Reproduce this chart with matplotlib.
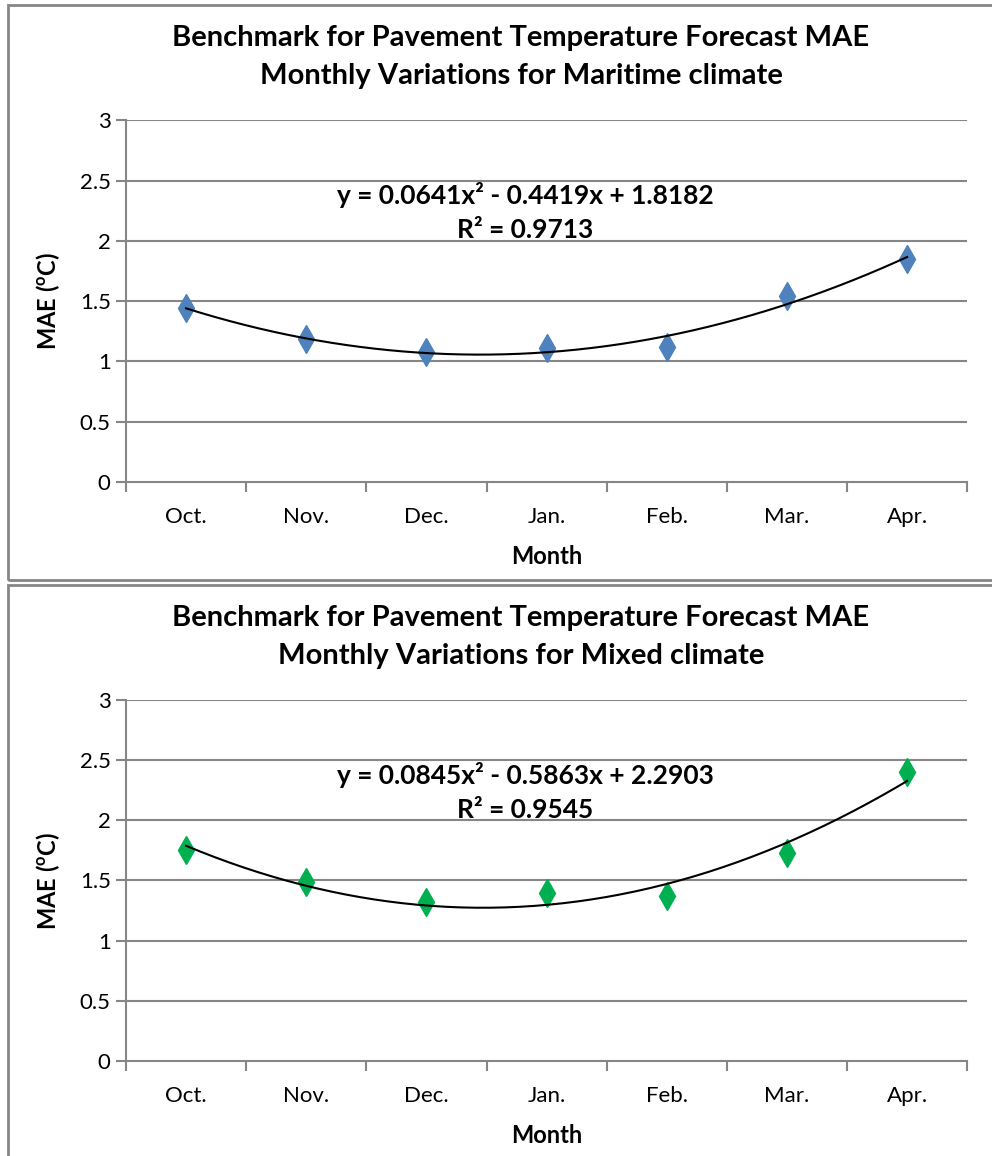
import numpy as np
import matplotlib.pyplot as plt
from matplotlib.patches import Rectangle

plt.rcParams['font.family'] = ['Lato', 'DejaVu Sans']
plt.rcParams['mathtext.fontset'] = 'custom'
plt.rcParams['mathtext.rm'] = 'Lato'
plt.rcParams['mathtext.bf'] = 'Lato:bold'

months = ['Oct.', 'Nov.', 'Dec.', 'Jan.', 'Feb.', 'Mar.', 'Apr.']
mae_maritime = [1.44, 1.19, 1.08, 1.11, 1.12, 1.54, 1.85]
mae_mixed = [1.75, 1.49, 1.32, 1.40, 1.37, 1.73, 2.40]
# trendline coefficients (a, b, c) and R² as printed on the chart
coef_maritime = [0.0641, -0.4419, 1.8182]
coef_mixed = [0.0845, -0.5863, 2.2903]
r2_maritime = 0.9713
r2_mixed = 0.9545
yticks = [0, 0.5, 1, 1.5, 2, 2.5, 3]

grid_col = '#868686'

fig = plt.figure(figsize=(9.92, 11.56), dpi=100)

# chart borders (pixels -> figure fraction)
W, H = 992, 1156
fig.patches.append(Rectangle((8 / W, (H - 580) / H), 1.0, 575 / H, transform=fig.transFigure,
                             fill=False, edgecolor=grid_col, lw=2.0))
fig.patches.append(Rectangle((8 / W, -0.01), 1.0, (H - 585) / H + 0.01, transform=fig.transFigure,
                             fill=False, edgecolor=grid_col, lw=2.0))

panels = [
    ([0.127, 0.583, 0.848, 0.313], mae_maritime, coef_maritime, r2_maritime, '#4F81BD',
     'Benchmark for Pavement Temperature Forecast MAE\nMonthly Variations for Maritime climate', 57 / H),
    ([0.127, 0.0822, 0.848, 0.3123], mae_mixed, coef_mixed, r2_mixed, '#00B050',
     'Benchmark for Pavement Temperature Forecast MAE\nMonthly Variations for Mixed climate', 637 / H),
]

x = np.arange(1, len(months) + 1)
xs = np.linspace(1, 7, 200)

for rect, vals, coef, r2, col, title, ty in panels:
    ax = fig.add_axes(rect)
    ax.set_xlim(0.5, 7.5)
    ax.set_ylim(0, 3)
    ax.set_yticks(yticks)
    ax.set_yticklabels(['0', '0.5', '1', '1.5', '2', '2.5', '3'])
    ax.set_xticks(x)
    ax.set_xticklabels(months)
    ax.set_xticks(np.arange(0.5, 8, 1), minor=True)
    ax.tick_params(axis='x', which='major', length=0, pad=18, labelsize=16)
    ax.tick_params(axis='x', which='minor', length=7, width=1.5, color=grid_col, direction='out')
    ax.tick_params(axis='y', length=7, width=1.5, color=grid_col, labelsize=16, pad=4)
    for y in yticks[1:]:
        ax.axhline(y, color=grid_col, lw=1.5, zorder=1)
    for s in ['top', 'right']:
        ax.spines[s].set_visible(False)
    for s in ['left', 'bottom']:
        ax.spines[s].set_color(grid_col)
        ax.spines[s].set_linewidth(1.5)

    ax.plot(x, vals, linestyle='none', marker='d', markersize=14, color=col,
            markeredgecolor=col, zorder=3)
    ax.plot(xs, np.polyval(coef, xs), color='black', lw=1.5, zorder=4)

    eq = f'y = {coef[0]:.4f}x² - {abs(coef[1]):.4f}x + {coef[2]:.4f}\nR² = {r2:.4f}'
    ax.text(3.82, 2.235, eq, ha='center', va='center', fontsize=19, fontweight='bold',
            linespacing=1.5, zorder=5)

    ax.set_xlabel('Month', fontsize=17, fontweight='bold', labelpad=13)
    ax.set_ylabel(r'MAE ($\mathbf{^o}$C)', fontsize=17, fontweight='bold', labelpad=13)

    fig.text(521 / W, 1 - ty, title, ha='center', va='center', fontsize=21,
             fontweight='bold', linespacing=1.55)

fig.savefig('out.png', dpi=100)
